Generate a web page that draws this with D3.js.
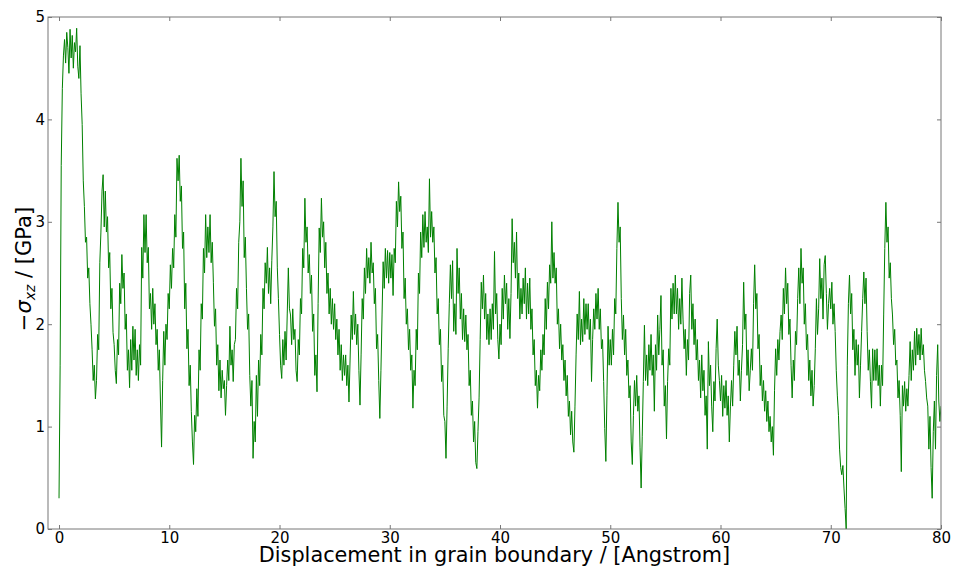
<!DOCTYPE html>
<html>
<head>
<meta charset="utf-8">
<script src="https://cdn.jsdelivr.net/npm/d3@7"></script>
<style>
body { margin: 0; background: #fff; }
text { font-family: "DejaVu Sans", sans-serif; }
</style>
</head>
<body>
<div id="chart"></div>
<script>
// Sampling step of the stress trace (Angstrom)
var stepSize = 0.1;

// -sigma_xz in GPa, one array per 10 Angstrom
var stress0 = [
    0.30, 1.60, 3.55, 4.30, 4.62, 4.78, 4.55, 4.85, 4.70, 4.45,
    4.88, 4.60, 4.82, 4.50, 4.75, 4.66, 4.89, 4.52, 4.40, 4.72,
    4.25, 3.95, 3.40, 3.15, 2.80, 2.85, 2.45, 2.55, 2.20, 2.00,
    1.75, 1.45, 1.60, 1.27, 1.45, 1.90, 1.75, 2.60, 2.90, 3.30,
    3.46, 2.95, 3.30, 2.90, 3.05, 2.55, 2.70, 2.15, 2.35, 1.92,
    1.80, 1.55, 1.42, 1.85, 1.70, 2.40, 2.20, 2.68, 2.35, 2.50,
    1.95, 2.10, 1.55, 1.75, 1.38, 1.85, 1.55, 1.98, 1.65, 1.95,
    1.50, 1.75, 1.45, 1.80, 1.60, 2.75, 2.45, 3.07, 2.70, 3.07,
    2.60, 2.75, 2.15, 2.30, 1.95, 2.35, 2.00, 2.20, 1.80, 1.95,
    1.55, 1.75, 1.25, 0.80, 1.45, 1.93, 1.60, 2.00, 1.85, 2.30
];
var stress1 = [
    2.15, 2.58, 2.35, 2.74, 2.55, 3.07, 2.85, 3.62, 3.40, 3.65,
    3.20, 3.35, 2.74, 2.90, 2.15, 2.40, 1.76, 1.95, 1.40, 1.60,
    1.15, 0.85, 0.63, 1.11, 0.95, 1.37, 1.10, 1.75, 1.55, 2.20,
    2.05, 2.74, 2.50, 3.07, 2.65, 2.95, 2.70, 3.07, 2.60, 2.80,
    2.41, 1.98, 2.15, 1.60, 1.80, 1.35, 1.65, 1.28, 1.55, 1.37,
    1.45, 1.11, 1.40, 1.65, 1.45, 1.98, 1.60, 1.75, 1.44, 1.80,
    1.85, 2.35, 2.15, 2.80, 3.00, 3.62, 3.15, 3.40, 2.65, 2.85,
    2.35, 1.95, 2.10, 1.50, 1.20, 1.45, 0.69, 1.05, 0.85, 1.50,
    1.10, 1.65, 1.40, 1.90, 1.70, 2.35, 2.15, 2.60, 2.40, 2.75,
    2.30, 2.55, 2.20, 2.62, 2.95, 3.49, 3.05, 3.20, 2.55, 2.25
];
var stress2 = [
    1.90, 1.60, 1.47, 1.85, 1.60, 1.93, 1.65, 2.10, 2.55, 2.15,
    2.09, 1.80, 2.15, 1.85, 1.95, 1.55, 1.44, 1.85, 1.70, 2.25,
    2.10, 2.74, 2.55, 3.23, 2.80, 2.95, 2.50, 2.68, 2.30, 2.48,
    1.93, 2.10, 1.50, 1.70, 1.34, 2.20, 2.94, 2.70, 3.23, 2.85,
    3.00, 2.55, 2.80, 2.30, 2.50, 2.10, 2.35, 2.00, 2.25, 1.95,
    2.20, 1.85, 2.05, 1.70, 1.95, 1.55, 1.80, 1.45, 1.70, 1.50,
    1.70, 1.40, 1.60, 1.24, 1.65, 2.09, 1.85, 2.32, 1.90, 2.10,
    1.80, 2.00, 1.55, 1.21, 1.70, 2.25, 2.05, 2.55, 2.30, 2.74,
    2.45, 2.65, 2.40, 2.80, 2.50, 2.60, 2.20, 2.35, 1.76, 1.90,
    1.45, 1.08, 1.55, 2.09, 2.61, 2.35, 2.74, 2.45, 2.72, 2.40
];
var stress3 = [
    2.70, 2.45, 2.68, 2.28, 2.74, 2.60, 3.20, 2.95, 3.39, 3.10,
    3.25, 2.74, 2.90, 2.25, 2.45, 2.00, 2.15, 1.75, 1.95, 1.55,
    1.70, 1.18, 1.55, 1.40, 1.95, 1.75, 2.50, 2.30, 2.90, 2.65,
    3.07, 2.75, 3.10, 2.80, 2.95, 2.70, 3.42, 2.85, 3.10, 2.80,
    2.95, 2.50, 2.65, 2.10, 2.25, 1.80, 1.95, 1.44, 1.60, 1.11,
    1.05, 0.69, 1.20, 1.76, 2.20, 2.58, 2.25, 2.62, 1.93, 2.20,
    1.90, 2.74, 2.30, 2.55, 2.05, 2.30, 1.85, 2.15, 1.83, 2.09,
    1.75, 1.90, 1.40, 1.55, 1.11, 1.25, 0.85, 1.05, 0.65, 0.59,
    0.95, 1.28, 1.85, 2.41, 2.15, 2.48, 2.05, 2.30, 1.85, 2.10,
    1.80, 2.15, 1.85, 2.20, 1.95, 2.71, 2.10, 2.30, 1.85, 1.66
];
var stress4 = [
    2.00, 1.80, 2.35, 2.05, 2.48, 2.20, 2.40, 1.95, 2.25, 1.86,
    2.30, 3.03, 2.60, 2.80, 2.45, 2.90, 2.25, 2.50, 2.05, 2.35,
    2.10, 2.45, 2.20, 2.55, 2.05, 2.40, 2.10, 2.45, 1.95, 2.15,
    1.70, 1.85, 1.40, 1.55, 1.18, 1.50, 1.35, 1.75, 1.55, 1.90,
    1.70, 2.25, 1.95, 2.41, 2.15, 2.58, 2.40, 3.00, 2.45, 2.70,
    2.40, 2.55, 2.00, 2.15, 1.76, 2.00, 1.65, 1.80, 1.45, 1.65,
    1.30, 1.50, 1.10, 1.25, 0.92, 1.15, 0.85, 0.75, 1.20, 1.70,
    2.10, 1.85, 2.32, 1.80, 2.05, 1.83, 2.25, 1.90, 2.20, 1.95,
    2.20, 1.85, 2.05, 1.44, 1.85, 2.15, 1.95, 2.30, 2.05, 2.35,
    1.95, 2.15, 1.76, 1.85, 1.44, 0.98, 0.66, 1.30, 1.98, 1.60
];
var stress5 = [
    1.85, 1.60, 1.95, 1.70, 2.25, 2.10, 2.74, 3.19, 2.80, 2.95,
    2.25, 1.85, 2.09, 1.70, 1.95, 1.50, 1.65, 1.28, 1.40, 0.85,
    0.63, 1.11, 1.45, 1.20, 1.50, 1.15, 1.30, 0.80, 0.40, 0.90,
    1.44, 1.99, 1.45, 1.70, 1.40, 1.80, 1.55, 1.90, 1.50, 1.70,
    1.15, 1.80, 1.55, 2.09, 1.70, 1.95, 2.28, 1.60, 1.75, 1.20,
    1.40, 0.88, 1.44, 1.76, 1.60, 2.35, 2.05, 2.40, 2.10, 2.48,
    2.10, 2.35, 1.95, 2.25, 2.00, 2.45, 2.05, 1.76, 1.95, 1.50,
    1.85, 1.65, 2.30, 2.48, 1.95, 2.20, 1.80, 2.05, 1.65, 1.85,
    1.45, 1.65, 1.28, 1.70, 1.35, 1.55, 1.11, 1.30, 0.78, 1.83,
    1.40, 1.60, 1.20, 0.95, 1.44, 1.25, 1.76, 2.05, 1.60, 1.45
];
var stress6 = [
    1.25, 1.50, 1.10, 1.40, 1.18, 1.45, 1.11, 1.30, 0.85, 1.20,
    1.45, 1.20, 1.60, 1.93, 1.70, 1.98, 1.50, 1.65, 1.25, 1.55,
    1.80, 2.41, 1.95, 2.10, 1.50, 1.75, 1.35, 1.55, 1.76, 1.55,
    2.20, 2.58, 2.15, 2.30, 1.76, 1.90, 1.40, 1.60, 1.25, 1.45,
    1.15, 1.35, 1.05, 1.25, 0.95, 1.10, 0.85, 1.00, 0.72, 1.35,
    1.76, 1.50, 1.85, 1.65, 1.93, 2.09, 1.85, 2.35, 2.10, 2.55,
    2.20, 2.40, 1.90, 2.05, 1.60, 1.28, 1.65, 1.45, 1.93, 1.80,
    2.25, 2.55, 2.20, 2.74, 2.40, 2.55, 2.00, 2.20, 1.75, 1.90,
    1.45, 1.65, 1.30, 1.55, 1.20, 1.40, 1.76, 2.25, 1.90, 2.15,
    2.64, 2.25, 2.45, 2.05, 2.58, 2.67, 2.30, 1.95, 2.20, 2.35
];
var stress7 = [
    2.15, 2.41, 2.00, 2.20, 1.93, 1.55, 1.30, 1.11, 0.78, 0.60,
    0.53, 0.62, 0.40, 0.20, 0.00, 1.60, 2.20, 2.48, 2.10, 2.30,
    1.75, 1.95, 1.50, 1.85, 1.60, 1.80, 1.28, 1.60, 1.93, 2.25,
    2.51, 2.20, 2.45, 1.93, 1.55, 1.75, 1.44, 1.18, 1.76, 1.45,
    1.75, 1.45, 1.76, 1.40, 1.60, 1.20, 1.60, 1.40, 2.09, 2.74,
    3.19, 2.80, 2.95, 2.45, 2.60, 2.25, 2.09, 1.80, 1.95, 1.60,
    1.65, 1.28, 1.45, 1.11, 0.56, 1.40, 1.20, 1.44, 1.15, 1.37,
    1.20, 1.50, 1.83, 1.45, 1.75, 1.55, 1.93, 1.60, 1.96, 1.70,
    1.90, 1.65, 1.96, 1.70, 1.80, 1.55, 1.44, 1.28, 1.20, 0.78,
    1.10, 0.60, 0.30, 0.95, 1.25, 0.78, 1.50, 1.80, 1.25, 1.05,
    1.20
];

// Axis ticks
var xTicks = [0, 10, 20, 30, 40, 50, 60, 70, 80];
var yTicks = [0, 1, 2, 3, 4, 5];

var stressData = [].concat(stress0, stress1, stress2, stress3, stress4, stress5, stress6, stress7);

// Chart size and plot box
var width = 955;
var height = 568;
var plotLeft = 48, plotRight = 941, plotTop = 17, plotBottom = 529;

var x = d3.scaleLinear().domain([-1, 80]).range([plotLeft, plotRight]);
var y = d3.scaleLinear().domain([0, 5]).range([plotBottom, plotTop]);

var svg = d3.select("#chart")
    .append("svg")
    .attr("width", width)
    .attr("height", height);

svg.append("defs").append("clipPath")
    .attr("id", "plotClip")
    .append("rect")
    .attr("x", plotLeft)
    .attr("y", plotTop)
    .attr("width", plotRight - plotLeft)
    .attr("height", plotBottom - plotTop);

// The stress trace
var stressLine = d3.line()
    .x(function (d, i) { return x(i * stepSize); })
    .y(function (d) { return y(d); });

svg.append("path")
    .datum(stressData)
    .attr("clip-path", "url(#plotClip)")
    .attr("d", stressLine)
    .style("fill", "none")
    .style("stroke", "#008000")
    .style("stroke-width", 1)
    .style("stroke-linejoin", "round");

// Frame
svg.append("rect")
    .attr("x", plotLeft)
    .attr("y", plotTop)
    .attr("width", plotRight - plotLeft)
    .attr("height", plotBottom - plotTop)
    .style("fill", "none")
    .style("stroke", "#777")
    .style("stroke-width", 1);

// Axes with inward ticks on all four sides
function styleAxis(g) {
    g.select(".domain").remove();
    g.selectAll("line").style("stroke", "#777");
    g.selectAll("text").style("font-size", "15px").style("fill", "#000")
        .style("font-family", "DejaVu Sans, sans-serif");
}

svg.append("g")
    .attr("transform", "translate(0," + plotBottom + ")")
    .call(d3.axisBottom(x).tickValues(xTicks).tickSizeInner(-4).tickSizeOuter(0).tickPadding(3))
    .call(styleAxis);

svg.append("g")
    .attr("transform", "translate(0," + plotTop + ")")
    .call(d3.axisTop(x).tickValues(xTicks).tickSizeInner(-4).tickSizeOuter(0).tickFormat(""))
    .call(styleAxis);

svg.append("g")
    .attr("transform", "translate(" + plotLeft + ",0)")
    .call(d3.axisLeft(y).tickValues(yTicks).tickFormat(d3.format("d"))
        .tickSizeInner(-4).tickSizeOuter(0).tickPadding(3))
    .call(styleAxis);

svg.append("g")
    .attr("transform", "translate(" + plotRight + ",0)")
    .call(d3.axisRight(y).tickValues(yTicks).tickSizeInner(-4).tickSizeOuter(0).tickFormat(""))
    .call(styleAxis);

// Axis titles
svg.append("text")
    .attr("x", (plotLeft + plotRight) / 2)
    .attr("y", 562)
    .style("text-anchor", "middle")
    .style("font-size", "20.8px")
    .text("Displacement in grain boundary / [Angstrom]");

var yTitle = svg.append("text")
    .attr("transform", "translate(31,269) rotate(-90)")
    .style("text-anchor", "middle")
    .style("font-size", "21px");
yTitle.append("tspan").text("\u2212");
yTitle.append("tspan").style("font-style", "italic").text("\u03c3");
yTitle.append("tspan").style("font-style", "italic").style("font-size", "14px")
    .attr("dy", 4).text("xz");
yTitle.append("tspan").attr("dy", -4).text(" / [GPa]");
</script>
</body>
</html>
